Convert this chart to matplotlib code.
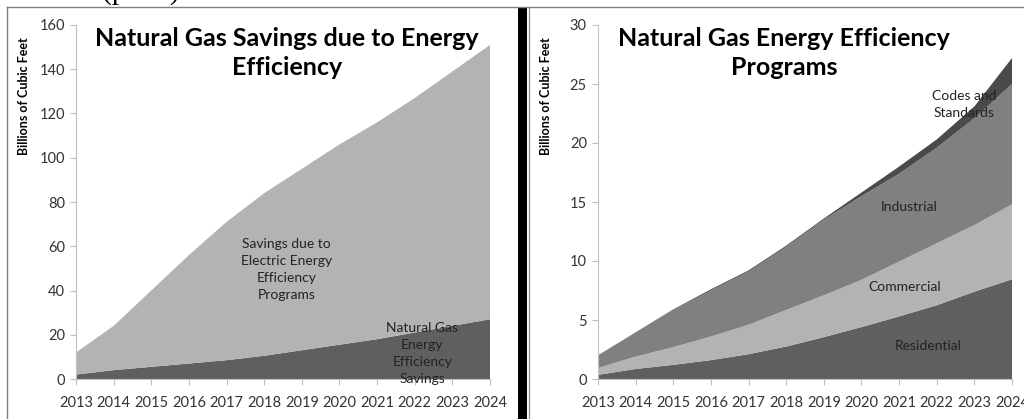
import numpy as np
import matplotlib.pyplot as plt
from matplotlib.lines import Line2D
from matplotlib.patches import Rectangle

plt.rcParams['font.family'] = ['Lato', 'DejaVu Sans']

years = np.arange(2013, 2025)

# left chart: natural gas savings (billions of cubic feet)
ng_savings = [2, 4, 5.5, 7, 8.5, 10.5, 13, 15.5, 18, 21, 24, 27]
total_savings = [12, 24, 40, 56, 71, 84, 95, 106, 116, 127, 139, 151]
elec_savings = list(np.array(total_savings) - np.array(ng_savings))

# right chart: natural gas energy efficiency programs
residential = [0.35, 0.85, 1.2, 1.6, 2.1, 2.75, 3.55, 4.4, 5.3, 6.25, 7.4, 8.45]
commercial = [0.58, 1.05, 1.5, 2.0, 2.5, 3.1, 3.55, 4.0, 4.65, 5.25, 5.65, 6.35]
industrial = [1.02, 2.0, 3.15, 3.9, 4.5, 5.35, 6.4, 7.1, 7.45, 8.1, 9.05, 10.2]
codes = [0.05, 0.05, 0.05, 0.1, 0.1, 0.1, 0.1, 0.3, 0.6, 0.7, 1.0, 2.2]

W, H = 1024, 419
fig = plt.figure(figsize=(W/100, H/100), dpi=100)


def px(x, y):
    """pixel coords (top-left origin) -> figure fraction"""
    return x / W, 1 - y / H


def style_axes(ax, ymax, ystep):
    ax.set_xlim(2013, 2024)
    ax.set_ylim(0, ymax)
    ax.set_xticks(years)
    ax.set_yticks(np.arange(0, ymax + 1, ystep))
    for s in ['top', 'right']:
        ax.spines[s].set_visible(False)
    for s in ['left', 'bottom']:
        ax.spines[s].set_color('#bfbfbf')
    ax.tick_params(axis='both', colors='#bfbfbf', labelcolor='#333333',
                   labelsize=10.5, length=4, direction='out')
    ax.tick_params(axis='y', pad=4)
    ax.tick_params(axis='x', pad=8)
    ax.set_facecolor('none')
    ax.set_ylabel('Billions of Cubic Feet', fontsize=9, fontweight='bold')
    ax.yaxis.set_label_coords(-0.111, 0.80)


lbl = dict(ha='center', va='center', fontsize=10, color='#222222',
           linespacing=1.5)
ttl = dict(ha='center', va='top', fontsize=18, fontweight='bold',
           linespacing=1.35)

# left panel
ax1 = fig.add_axes([76/W, 40/H, 414/W, 354/H])
ax1.stackplot(years, ng_savings, elec_savings,
              colors=['#5f5f5f', '#b3b3b3'], lw=0)
style_axes(ax1, 160, 20)
ax1.text(0.51, 0.995, 'Natural Gas Savings due to Energy\nEfficiency',
         transform=ax1.transAxes, **ttl)
ax1.text(2018.6, 49.3,
         'Savings due to\nElectric Energy\nEfficiency\nPrograms', **lbl)
ax1.text(2022.2, 11.3, 'Natural Gas\nEnergy\nEfficiency\nSavings', **lbl)

# right panel
ax2 = fig.add_axes([598/W, 40/H, 414/W, 354/H])
ax2.stackplot(years, residential, commercial, industrial, codes,
              colors=['#5f5f5f', '#b3b3b3', '#808080', '#4a4a4a'], lw=0)
style_axes(ax2, 30, 5)
ax2.text(0.45, 0.995, 'Natural Gas Energy Efficiency\nPrograms',
         transform=ax2.transAxes, **ttl)
ax2.text(2022.72, 23.3, 'Codes and\nStandards', **lbl)
ax2.text(2021.26, 14.6, 'Industrial', **lbl)
ax2.text(2021.16, 7.8, 'Commercial', **lbl)
ax2.text(2021.77, 2.8, 'Residential', **lbl)

# frame lines and separator
fig.add_artist(Line2D([px(7, 0)[0], 1], [px(0, 7)[1]] * 2, color='#808080',
                      lw=1))
fig.add_artist(Line2D([px(7, 0)[0]] * 2, [0, px(0, 7)[1]], color='#808080',
                      lw=1))
fig.add_artist(Rectangle(px(518, 419), 9/W, 412/H, color='black', lw=0))
fig.add_artist(Line2D([px(528.5, 0)[0]] * 2, [0, px(0, 7)[1]],
                      color='#999999', lw=1))

# clipped text from the page above
fig.text(*px(180, -1), 'below.  (p. 30)', ha='right', va='baseline',
         fontsize=21, family='Liberation Serif')

fig.savefig('out.png', dpi=100)
